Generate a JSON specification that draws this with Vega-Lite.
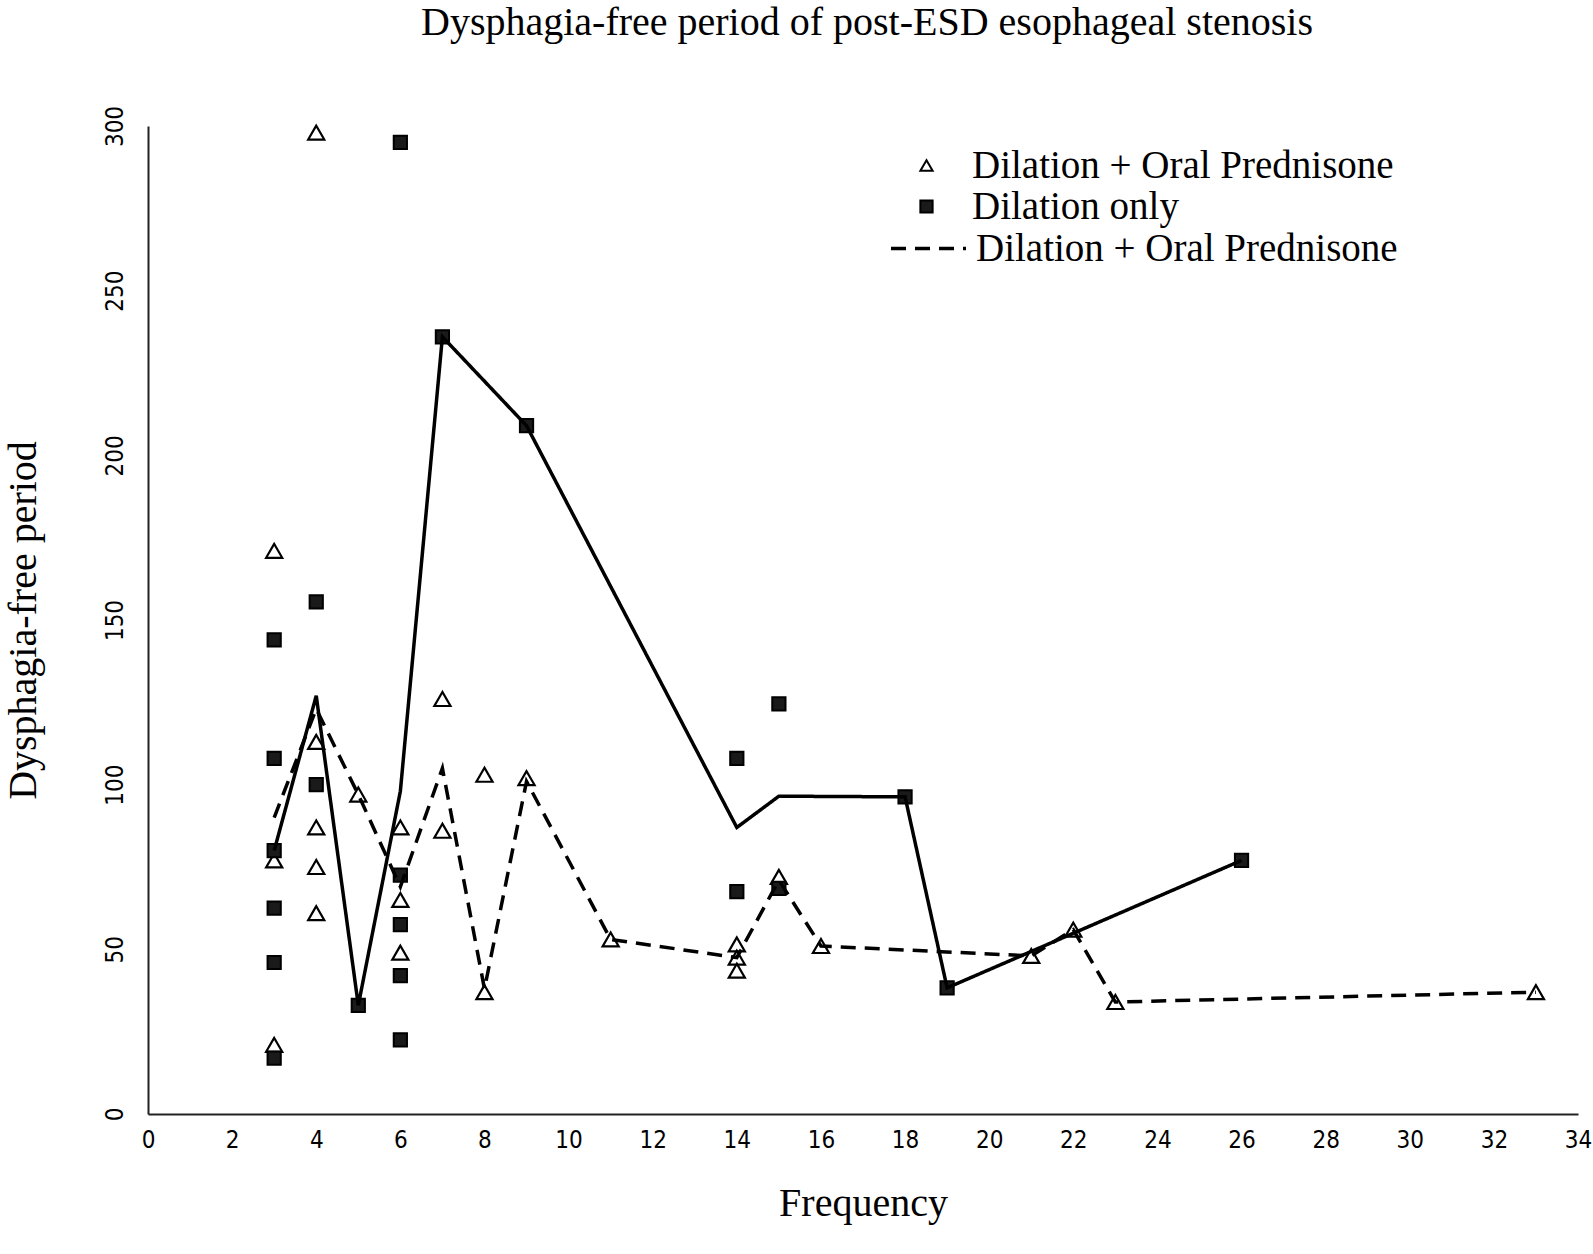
{
  "$schema": "https://vega.github.io/schema/vega-lite/v6.json",
  "width": 1430,
  "height": 988,
  "autosize": {"type": "none"},
  "padding": {"left": 148, "top": 126, "right": 15, "bottom": 140},
  "background": "white",
  "title": {
    "text": "Dysphagia-free period of post-ESD esophageal stenosis",
    "font": "Liberation Serif",
    "fontSize": 40,
    "fontWeight": "normal",
    "color": "black",
    "frame": "group",
    "anchor": "middle",
    "offset": 62,
    "dx": 4
  },
  "config": {
    "view": {"stroke": null},
    "axis": {
      "grid": false,
      "ticks": false,
      "domainColor": "#222222",
      "domainWidth": 2,
      "labelFont": "Liberation Sans Narrow, DejaVu Sans Condensed, Liberation Sans, sans-serif",
      "labelFontSize": 24,
      "labelColor": "black",
      "titleFont": "Liberation Serif",
      "titleFontSize": 40,
      "titleFontWeight": "normal",
      "titleColor": "black"
    },
    "legend": {
      "title": null,
      "orient": "none",
      "padding": 0,
      "labelFont": "Liberation Serif",
      "labelFontSize": 39,
      "labelColor": "black",
      "labelLimit": 800
    }
  },
  "datasets": {
    "pts": [
      {"freq": 3, "days": 171, "group": "Dilation + Oral Prednisone"},
      {"freq": 3, "days": 77, "group": "Dilation + Oral Prednisone"},
      {"freq": 3, "days": 21, "group": "Dilation + Oral Prednisone"},
      {"freq": 4, "days": 298, "group": "Dilation + Oral Prednisone"},
      {"freq": 4, "days": 113, "group": "Dilation + Oral Prednisone"},
      {"freq": 4, "days": 87, "group": "Dilation + Oral Prednisone"},
      {"freq": 4, "days": 75, "group": "Dilation + Oral Prednisone"},
      {"freq": 4, "days": 61, "group": "Dilation + Oral Prednisone"},
      {"freq": 5, "days": 97, "group": "Dilation + Oral Prednisone"},
      {"freq": 6, "days": 87, "group": "Dilation + Oral Prednisone"},
      {"freq": 6, "days": 65, "group": "Dilation + Oral Prednisone"},
      {"freq": 6, "days": 49, "group": "Dilation + Oral Prednisone"},
      {"freq": 7, "days": 126, "group": "Dilation + Oral Prednisone"},
      {"freq": 7, "days": 86, "group": "Dilation + Oral Prednisone"},
      {"freq": 8, "days": 103, "group": "Dilation + Oral Prednisone"},
      {"freq": 8, "days": 37, "group": "Dilation + Oral Prednisone"},
      {"freq": 9, "days": 102, "group": "Dilation + Oral Prednisone"},
      {"freq": 11, "days": 53, "group": "Dilation + Oral Prednisone"},
      {"freq": 14, "days": 51.5, "group": "Dilation + Oral Prednisone"},
      {"freq": 14, "days": 47.5, "group": "Dilation + Oral Prednisone"},
      {"freq": 14, "days": 43.5, "group": "Dilation + Oral Prednisone"},
      {"freq": 15, "days": 72, "group": "Dilation + Oral Prednisone"},
      {"freq": 16, "days": 51, "group": "Dilation + Oral Prednisone"},
      {"freq": 21, "days": 48, "group": "Dilation + Oral Prednisone"},
      {"freq": 22, "days": 56, "group": "Dilation + Oral Prednisone"},
      {"freq": 23, "days": 34, "group": "Dilation + Oral Prednisone"},
      {"freq": 33, "days": 37, "group": "Dilation + Oral Prednisone"},
      {"freq": 3, "days": 144, "group": "Dilation only"},
      {"freq": 3, "days": 108, "group": "Dilation only"},
      {"freq": 3, "days": 80, "group": "Dilation only"},
      {"freq": 3, "days": 62.5, "group": "Dilation only"},
      {"freq": 3, "days": 46, "group": "Dilation only"},
      {"freq": 3, "days": 17, "group": "Dilation only"},
      {"freq": 4, "days": 155.5, "group": "Dilation only"},
      {"freq": 4, "days": 100, "group": "Dilation only"},
      {"freq": 5, "days": 33, "group": "Dilation only"},
      {"freq": 6, "days": 295, "group": "Dilation only"},
      {"freq": 6, "days": 72.5, "group": "Dilation only"},
      {"freq": 6, "days": 57.5, "group": "Dilation only"},
      {"freq": 6, "days": 42, "group": "Dilation only"},
      {"freq": 6, "days": 22.5, "group": "Dilation only"},
      {"freq": 7, "days": 236, "group": "Dilation only"},
      {"freq": 9, "days": 209, "group": "Dilation only"},
      {"freq": 14, "days": 108, "group": "Dilation only"},
      {"freq": 14, "days": 67.5, "group": "Dilation only"},
      {"freq": 15, "days": 124.5, "group": "Dilation only"},
      {"freq": 15, "days": 68.5, "group": "Dilation only"},
      {"freq": 18, "days": 96.3, "group": "Dilation only"},
      {"freq": 19, "days": 38.3, "group": "Dilation only"},
      {"freq": 26, "days": 77, "group": "Dilation only"}
    ],
    "lines": [
      {"freq": 3, "days": 90, "series": "Prednisone trend"},
      {"freq": 4, "days": 123, "series": "Prednisone trend"},
      {"freq": 5, "days": 97, "series": "Prednisone trend"},
      {"freq": 6, "days": 69, "series": "Prednisone trend"},
      {"freq": 7, "days": 105, "series": "Prednisone trend"},
      {"freq": 8, "days": 38, "series": "Prednisone trend"},
      {"freq": 9, "days": 101, "series": "Prednisone trend"},
      {"freq": 11, "days": 53, "series": "Prednisone trend"},
      {"freq": 14, "days": 47.5, "series": "Prednisone trend"},
      {"freq": 15, "days": 71, "series": "Prednisone trend"},
      {"freq": 16, "days": 51, "series": "Prednisone trend"},
      {"freq": 21, "days": 48, "series": "Prednisone trend"},
      {"freq": 22, "days": 56, "series": "Prednisone trend"},
      {"freq": 23, "days": 34, "series": "Prednisone trend"},
      {"freq": 33, "days": 37, "series": "Prednisone trend"},
      {"freq": 3, "days": 80, "series": "Dilation only trend"},
      {"freq": 4, "days": 127, "series": "Dilation only trend"},
      {"freq": 5, "days": 33, "series": "Dilation only trend"},
      {"freq": 6, "days": 98, "series": "Dilation only trend"},
      {"freq": 7, "days": 236, "series": "Dilation only trend"},
      {"freq": 9, "days": 209, "series": "Dilation only trend"},
      {"freq": 14, "days": 87, "series": "Dilation only trend"},
      {"freq": 15, "days": 96.5, "series": "Dilation only trend"},
      {"freq": 18, "days": 96.3, "series": "Dilation only trend"},
      {"freq": 19, "days": 38.3, "series": "Dilation only trend"},
      {"freq": 26, "days": 77, "series": "Dilation only trend"}
    ]
  },
  "encoding": {
    "x": {
      "field": "freq",
      "type": "quantitative",
      "scale": {"domain": [0, 34], "nice": false, "zero": true},
      "axis": {
        "title": "Frequency",
        "values": [0, 2, 4, 6, 8, 10, 12, 14, 16, 18, 20, 22, 24, 26, 28, 30, 32, 34],
        "labelPadding": 14,
        "titlePadding": 31,
        "labelFlush": false
      }
    },
    "y": {
      "field": "days",
      "type": "quantitative",
      "scale": {"domain": [0, 300], "nice": false},
      "axis": {
        "title": "Dysphagia-free period",
        "values": [0, 50, 100, 150, 200, 250, 300],
        "labelAngle": -90,
        "labelAlign": "center",
        "labelBaseline": "alphabetic",
        "labelPadding": 26,
        "titlePadding": 60,
        "labelFlush": false
      }
    }
  },
  "layer": [
    {
      "data": {"name": "pts"},
      "transform": [{"filter": "datum.group == 'Dilation + Oral Prednisone'"}],
      "mark": {"type": "point", "filled": true, "strokeWidth": 2.2, "opacity": 1, "size": 260},
      "encoding": {
        "stroke": {
          "field": "group",
          "type": "nominal",
          "scale": {"domain": ["Dilation + Oral Prednisone", "Dilation only"], "range": ["black", "black"]},
          "legend": {
            "legendX": 759,
            "legendY": 20,
            "labelOffset": 26,
            "rowPadding": 1,
            "symbolSize": 150,
            "symbolStrokeWidth": 2
          }
        },
        "shape": {
          "field": "group",
          "type": "nominal",
          "scale": {"domain": ["Dilation + Oral Prednisone", "Dilation only"], "range": ["triangle-up", "square"]},
          "legend": {
            "legendX": 759,
            "legendY": 20,
            "labelOffset": 26,
            "rowPadding": 1,
            "symbolSize": 150,
            "symbolStrokeWidth": 2
          }
        },
        "fill": {
          "field": "group",
          "type": "nominal",
          "scale": {"domain": ["Dilation + Oral Prednisone", "Dilation only"], "range": ["white", "#1a1a1a"]},
          "legend": {
            "legendX": 759,
            "legendY": 20,
            "labelOffset": 26,
            "rowPadding": 1,
            "symbolSize": 150,
            "symbolStrokeWidth": 2
          }
        }
      }
    },
    {
      "data": {"name": "pts"},
      "transform": [{"filter": "datum.group == 'Dilation only'"}],
      "mark": {"type": "point", "filled": true, "strokeWidth": 2, "opacity": 1, "size": 175},
      "encoding": {
        "stroke": {"field": "group", "type": "nominal"},
        "shape": {"field": "group", "type": "nominal"},
        "fill": {"field": "group", "type": "nominal"}
      }
    },
    {
      "data": {"name": "lines"},
      "mark": {"type": "line", "color": "black", "strokeWidth": 3.5},
      "encoding": {
        "detail": {"field": "series", "type": "nominal"},
        "strokeDash": {
          "field": "series",
          "type": "nominal",
          "scale": {"domain": ["Prednisone trend", "Dilation only trend"], "range": [[15, 9], [1, 0]]},
          "legend": {
            "values": ["Prednisone trend"],
            "labelExpr": "datum.label == 'Prednisone trend' ? 'Dilation + Oral Prednisone' : datum.label",
            "legendX": 741,
            "legendY": 83,
            "labelOffset": 8,
            "symbolType": "stroke",
            "symbolSize": 5625,
            "symbolStrokeColor": "black",
            "symbolStrokeWidth": 3.5
          }
        }
      }
    }
  ]
}
